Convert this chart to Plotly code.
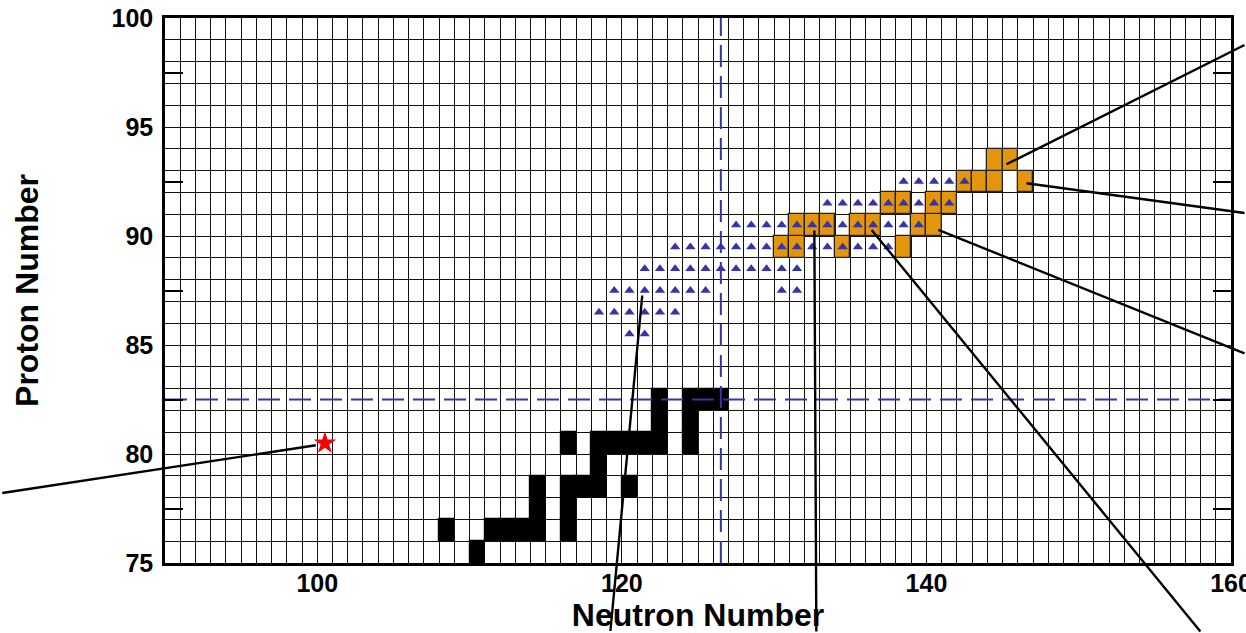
import plotly.graph_objects as go

# ---------------- data ----------------
N_RANGE = [90, 160]
Z_RANGE = [75, 100]
MAGIC_N = 126
MAGIC_Z = 82

x_tick_labels = [100, 120, 140, 160]
y_tick_labels = [75, 80, 85, 90, 95, 100]
y_minor_ticks = [77.5, 82.5, 87.5, 92.5, 97.5]

# stable nuclei (black cells), one list of N per proton row
stable_Z = [75, 76, 77, 78, 79, 80, 81, 82]
stable_N = [
    [110],
    [108, 111, 112, 113, 114, 116],
    [114, 116],
    [114, 116, 117, 118, 120],
    [118],
    [116, 118, 119, 120, 121, 122, 124],
    [122, 124],
    [122, 124, 125, 126],
]

# orange cells
orange_Z = [89, 90, 91, 92, 93]
orange_N = [
    [130, 131, 134, 138],
    [131, 132, 133, 135, 136, 139, 140],
    [137, 138, 140, 141],
    [142, 143, 144, 146],
    [144, 145],
]

# triangle markers
tri_Z = [85, 86, 87, 88, 89, 90, 91, 92]
tri_N = [
    [120, 121],
    [118, 119, 120, 121, 122, 123],
    [119, 120, 121, 122, 123, 124, 125, 130, 131],
    [121, 122, 123, 124, 125, 126, 127, 128, 129, 130, 131],
    [123, 124, 125, 126, 127, 128, 129, 130, 131, 132, 133, 134, 135, 136, 137],
    [127, 128, 129, 130, 131, 132, 133, 134, 135, 136, 137, 138, 139],
    [133, 134, 135, 136, 137, 138, 139, 140, 141],
    [138, 139, 140, 141, 142],
]

# red star
star_N = [100]
star_Z = [80]

# connector lines: anchor cell (N, Z)
conn_N = [99, 121, 132, 136, 140, 146, 145]
conn_Z = [80, 87, 90, 90, 90, 92, 93]

# ---------------- styles ----------------
FONT = "Liberation Sans, Arial, Helvetica, sans-serif"
BLUE = "#3535A6"
ORANGE = "#E3960C"


def flatten(rows_Z, rows_N):
    xs, ys = [], []
    for z, ns in zip(rows_Z, rows_N):
        for n in ns:
            xs.append(n)
            ys.append(z)
    return xs, ys


fig = go.Figure()

sN, sZ = flatten(stable_Z, stable_N)
fig.add_trace(go.Bar(
    x=[n + 0.5 for n in sN], y=[1] * len(sN), base=sZ, width=1,
    marker=dict(color="black", line=dict(color="black", width=1.2)),
    showlegend=False, hoverinfo="skip"))

oN, oZ = flatten(orange_Z, orange_N)
fig.add_trace(go.Bar(
    x=[n + 0.5 for n in oN], y=[1] * len(oN), base=oZ, width=1,
    marker=dict(color=ORANGE, line=dict(color="#222", width=1.3)),
    showlegend=False, hoverinfo="skip"))

tN, tZ = flatten(tri_Z, tri_N)
fig.add_trace(go.Scatter(
    x=[n + 0.5 for n in tN], y=[z + 0.5 for z in tZ], mode="markers",
    marker=dict(symbol="triangle-up", size=9, color=BLUE, line=dict(width=0)),
    showlegend=False, hoverinfo="skip"))

# magic number dashed lines
fig.add_trace(go.Scatter(
    x=[MAGIC_N + 0.5, MAGIC_N + 0.5], y=Z_RANGE, mode="lines",
    line=dict(color=BLUE, width=2, dash="22px,9px"),
    showlegend=False, hoverinfo="skip"))
fig.add_trace(go.Scatter(
    x=N_RANGE, y=[MAGIC_Z + 0.5, MAGIC_Z + 0.5], mode="lines",
    line=dict(color=BLUE, width=2, dash="22px,9px"),
    showlegend=False, hoverinfo="skip"))

fig.add_trace(go.Scatter(
    x=[n + 0.5 for n in star_N], y=[z + 0.5 for z in star_Z], mode="markers",
    marker=dict(symbol="star", size=17, color="red", line=dict(width=0)),
    showlegend=False, hoverinfo="skip"))

# connectors (start offset inside anchor cell, end offset in px)
conn_dx = [0.9, 0.34, 0.64, 0.4, 0.78, 0.57, 0.26]
conn_dy = [0.4, 0.27, 0.25, 0.28, 0.28, 0.42, 0.29]
conn_ax = [-315, -32, 2, 330, 308, 220, 240]
conn_ay = [48, 337, 403, 403, 124, 30, -120]
annotations = []
for n, z, dx, dy, ax, ay in zip(conn_N, conn_Z, conn_dx, conn_dy, conn_ax, conn_ay):
    annotations.append(dict(
        x=n + dx, y=z + dy, xref="x", yref="y", ax=ax, ay=ay,
        axref="pixel", ayref="pixel", text="", showarrow=True,
        arrowhead=0, arrowwidth=2.4, arrowcolor="black",
        standoff=0, startstandoff=0))

x_vals = list(range(N_RANGE[0], N_RANGE[1] + 1))
y_vals = list(range(Z_RANGE[0], Z_RANGE[1] + 1))

fig.update_layout(
    width=1246, height=633,
    margin=dict(l=165, r=15, t=18, b=70),
    paper_bgcolor="white", plot_bgcolor="white",
    barmode="overlay", bargap=0,
    showlegend=False,
    annotations=annotations,
    xaxis=dict(
        range=N_RANGE, tickmode="array", tickvals=x_vals,
        ticktext=[str(v) if v in x_tick_labels else "" for v in x_vals],
        showgrid=True, gridcolor="#111", gridwidth=1.3,
        ticks="", showline=True, linecolor="black", linewidth=2.5,
        mirror=True, zeroline=False, automargin=False,
        ticklabelstandoff=-4, ticklabeloverflow="allow",
        tickfont=dict(family=FONT, size=25, color="black", weight="bold"),
        title=dict(text="Neutron Number", standoff=6,
                   font=dict(family=FONT, size=32, color="black", weight="bold")),
    ),
    yaxis=dict(
        range=Z_RANGE, tickmode="array", tickvals=y_vals,
        ticktext=[str(v) if v in y_tick_labels else "" for v in y_vals],
        showgrid=True, gridcolor="#111", gridwidth=1.3,
        ticks="", showline=True, linecolor="black", linewidth=2.5,
        mirror="allticks", zeroline=False, automargin=False,
        ticklabelstandoff=4, ticklabeloverflow="allow",
        minor=dict(tickvals=y_minor_ticks, ticks="inside", ticklen=18,
                   tickwidth=2, tickcolor="black", showgrid=False),
        tickfont=dict(family=FONT, size=25, color="black", weight="bold"),
        title=dict(text="Proton Number", standoff=64,
                   font=dict(family=FONT, size=32, color="black", weight="bold")),
    ),
)

fig.write_html("out.html", config={"displayModeBar": False},
               post_script="document.body.style.margin='0';")
